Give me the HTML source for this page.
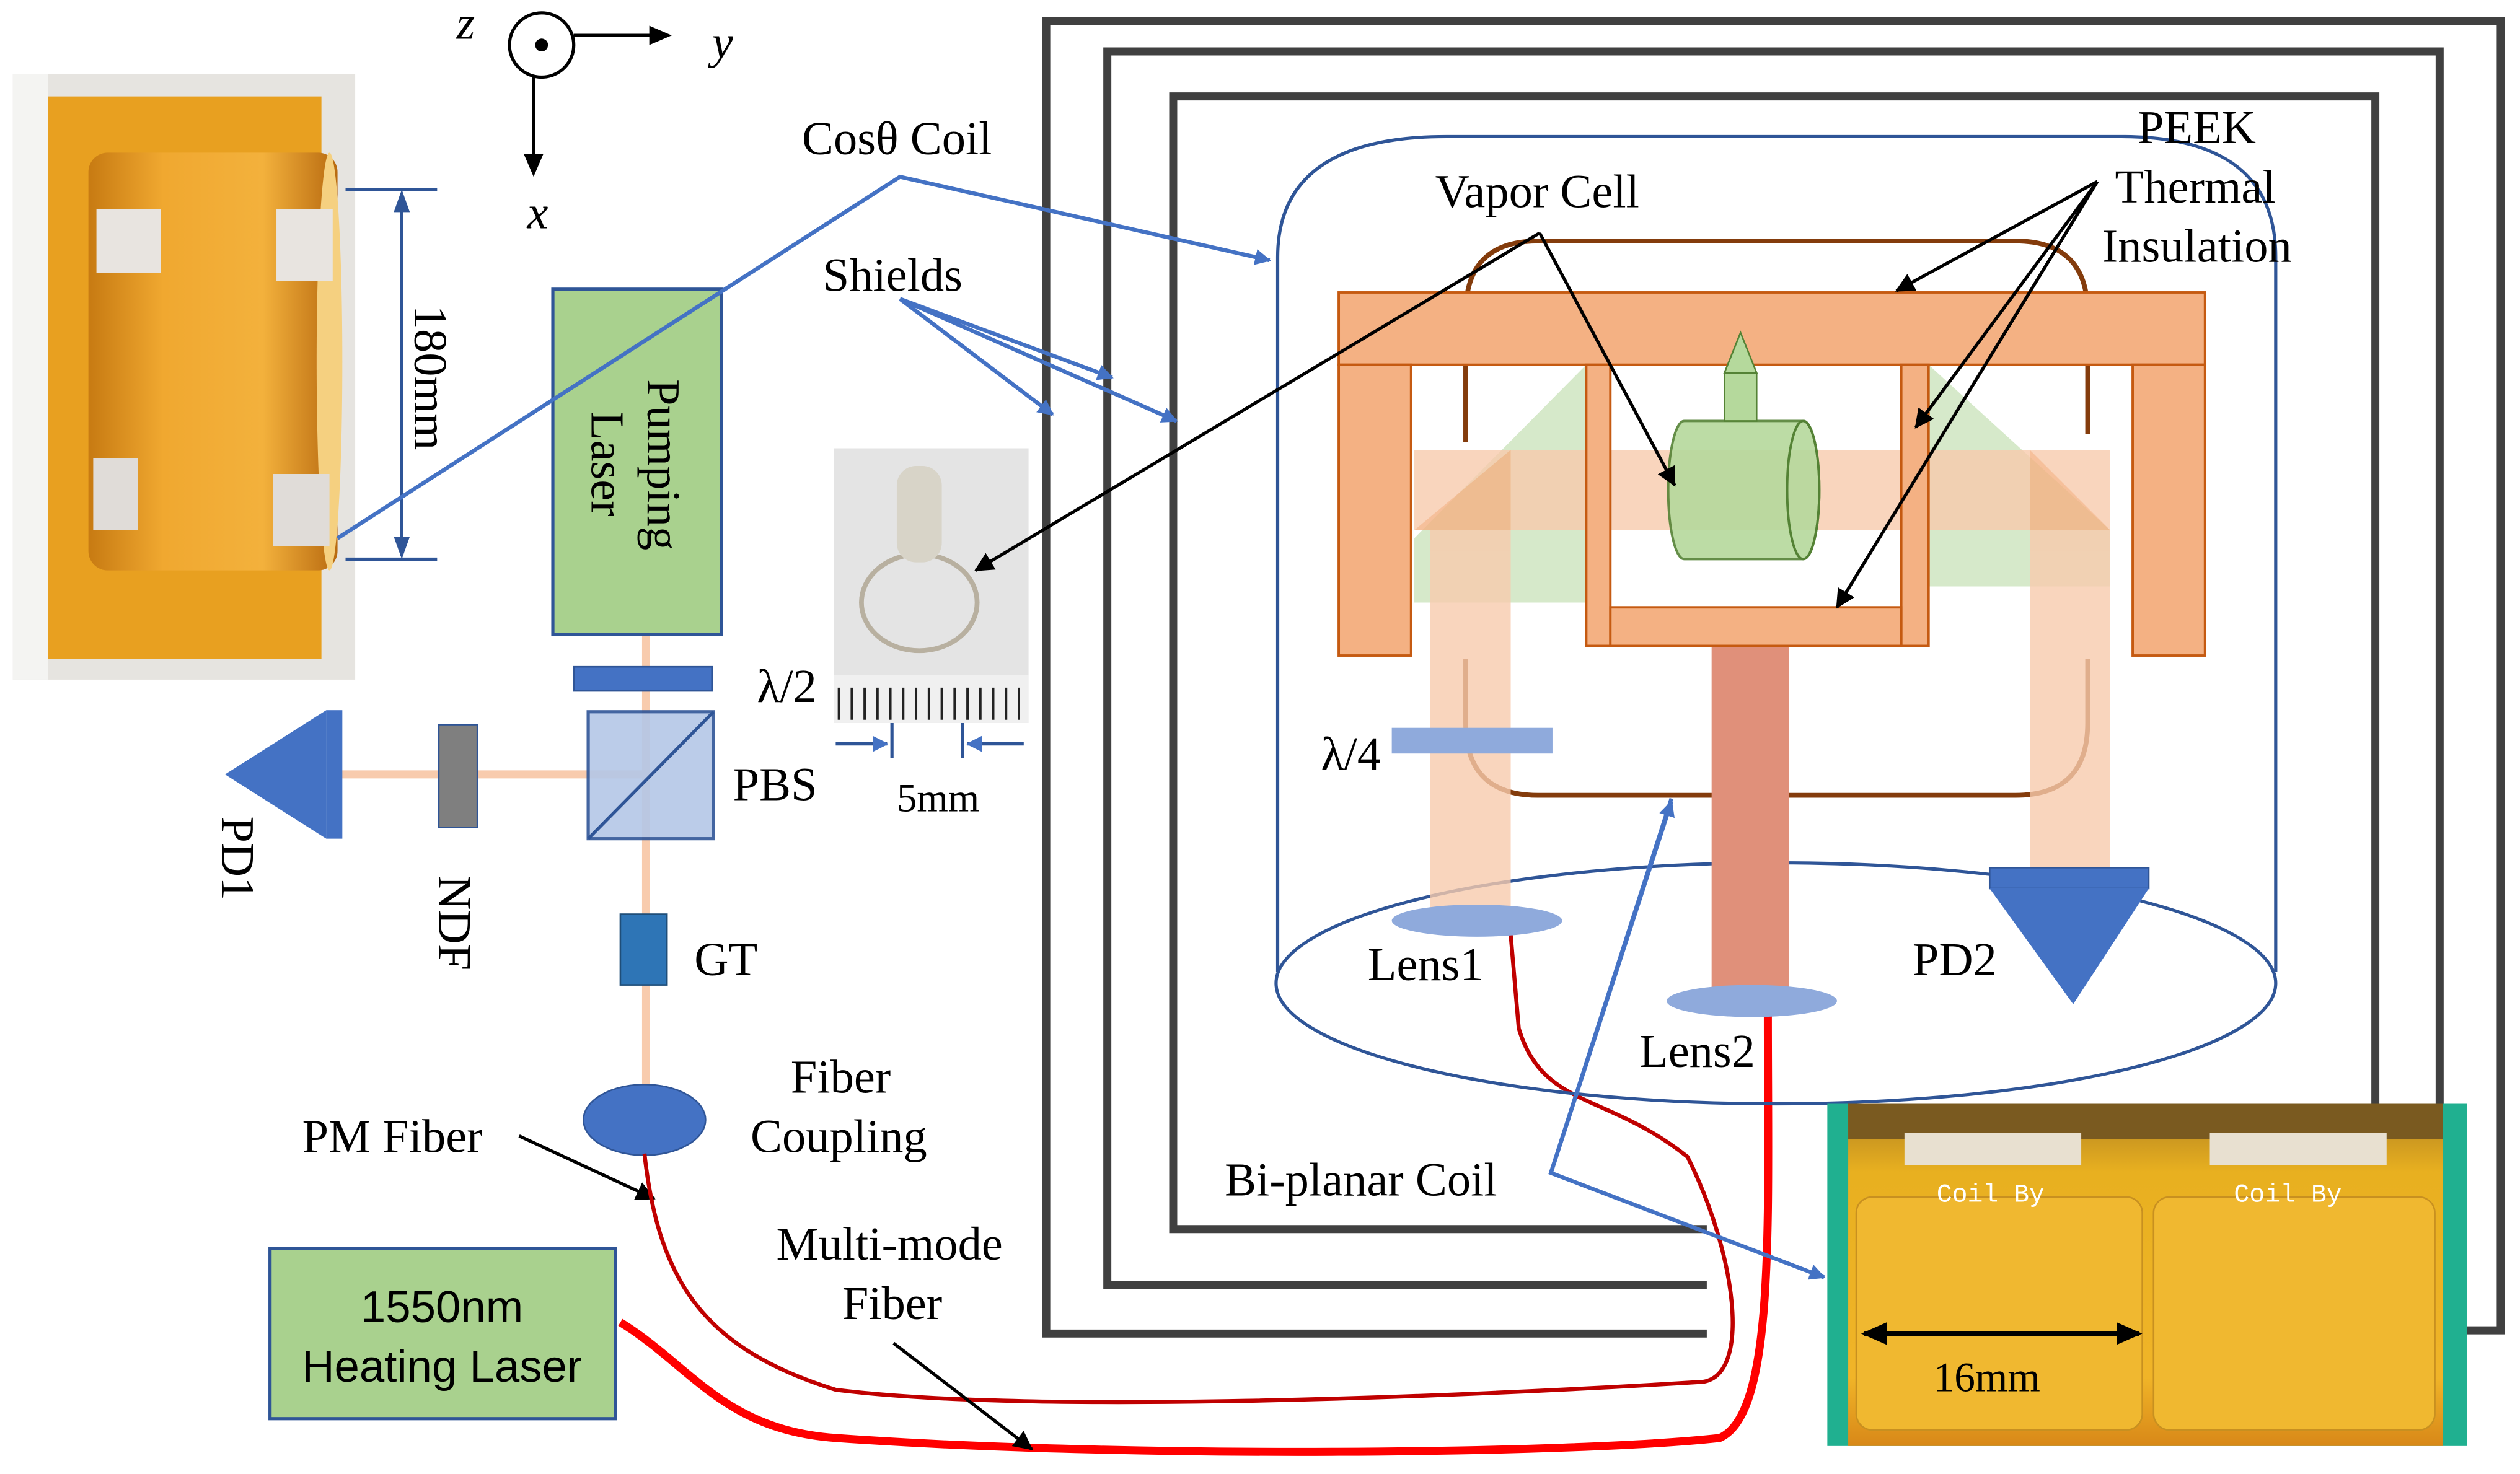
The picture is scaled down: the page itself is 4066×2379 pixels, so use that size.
<!DOCTYPE html>
<html><head><meta charset="utf-8"><style>html,body{margin:0;padding:0;background:#fff}svg{display:block}</style></head><body>
<svg width="4066" height="2379" viewBox="0 0 1568 917.4" xmlns="http://www.w3.org/2000/svg" font-family="Liberation Serif, serif" font-size="29.5">
<defs>
<marker id="ab" markerWidth="10" markerHeight="10" refX="9" refY="5" orient="auto" markerUnits="userSpaceOnUse"><path d="M0,0 L10,5 L0,10 z" fill="#4472c4"/></marker>
<marker id="ak" markerWidth="12" markerHeight="12" refX="11" refY="6" orient="auto" markerUnits="userSpaceOnUse"><path d="M0,0 L12,6 L0,12 z" fill="#000"/></marker>
<linearGradient id="cyl" x1="0" x2="1"><stop offset="0" stop-color="#c77a12"/><stop offset="0.3" stop-color="#f0a830"/><stop offset="0.7" stop-color="#f3b13c"/><stop offset="1" stop-color="#b86a10"/></linearGradient>
<linearGradient id="pcb" x1="0" y1="0" x2="0" y2="1"><stop offset="0" stop-color="#b08020"/><stop offset="0.2" stop-color="#e8b020"/><stop offset="0.8" stop-color="#f0b428"/><stop offset="1" stop-color="#d88818"/></linearGradient>
</defs>
<g fill="none" stroke="#404040" stroke-width="5">
<path d="M1062,830 L651,830 L651,13 L1556,13 L1556,828 L1535,828"/>
<path d="M1062,800 L689,800 L689,32 L1518,32 L1518,800"/>
<path d="M1062,765 L730,765 L730,60 L1478,60 L1478,765"/>
</g>
<rect x="8" y="46" width="213" height="377" fill="#e6e4e0"/>
<rect x="8" y="46" width="22" height="377" fill="#f4f4f2"/>
<rect x="30" y="60" width="170" height="350" fill="#e8a020"/>
<rect x="55" y="95" width="155" height="260" rx="12" fill="url(#cyl)"/>
<ellipse cx="205" cy="225" rx="8" ry="130" fill="#f5d080"/>
<rect x="60" y="130" width="40" height="40" fill="#e8e4e0"/><rect x="172" y="130" width="35" height="45" fill="#e8e4e0"/>
<rect x="58" y="285" width="28" height="45" fill="#e0dcd8"/><rect x="170" y="295" width="35" height="45" fill="#e0dcd8"/>
<circle cx="337" cy="28" r="20" fill="none" stroke="#000" stroke-width="2"/><circle cx="337" cy="28" r="4" fill="#000"/>
<line x1="357" y1="22" x2="405" y2="22" stroke="#000" stroke-width="2"/><path d="M418,22 L404,16 L404,28z"/>
<line x1="332" y1="48" x2="332" y2="98" stroke="#000" stroke-width="2"/><path d="M332,110 L326,96 L338,96z"/>
<text x="284" y="24" font-style="italic">z</text><text x="443" y="36" font-style="italic">y</text><text x="328" y="142" font-style="italic">x</text>
<g stroke="#2f5597" stroke-width="2"><line x1="215" y1="118" x2="272" y2="118"/><line x1="215" y1="348" x2="272" y2="348"/><line x1="250" y1="120" x2="250" y2="346"/></g>
<path d="M250,118 L245,132 L255,132z M250,348 L245,334 L255,334z" fill="#2f5597"/>
<text transform="translate(258,190) rotate(90)">180mm</text>
<line x1="402" y1="395" x2="402" y2="700" stroke="#f8cbad" stroke-width="5"/>
<line x1="210" y1="482" x2="402" y2="482" stroke="#f8cbad" stroke-width="5"/>
<rect x="344" y="180" width="105" height="215" fill="#a9d18e" stroke="#2f5597" stroke-width="2"/>
<text transform="translate(403,236) rotate(90)">Pumping</text><text transform="translate(368,256) rotate(90)">Laser</text>
<rect x="357" y="415" width="86" height="15" fill="#4472c4" stroke="#2f5597"/>
<text x="471" y="437">λ/2</text>
<rect x="366" y="443" width="78" height="79" fill="#b4c7e7" stroke="#2f5597" stroke-width="2" opacity="0.9"/>
<line x1="366" y1="522" x2="444" y2="443" stroke="#2f5597" stroke-width="2"/>
<text x="456" y="498">PBS</text>
<rect x="273" y="451" width="24" height="64" fill="#7f7f7f" stroke="#2f5597"/>
<text transform="translate(273,545) rotate(90)">NDF</text>
<path d="M140,482 L203,442 L203,522z" fill="#4472c4"/><rect x="203" y="442" width="10" height="80" fill="#4472c4"/>
<text transform="translate(138,508) rotate(90)">PD1</text>
<rect x="386" y="569" width="29" height="44" fill="#2e75b6" stroke="#1f4e79"/>
<text x="432" y="607">GT</text>
<ellipse cx="401" cy="697" rx="38" ry="22" fill="#4472c4" stroke="#2f5597"/>
<text x="492" y="680">Fiber</text><text x="467" y="717">Coupling</text>
<text x="188" y="717">PM Fiber</text>
<line x1="323" y1="707" x2="407" y2="746" stroke="#000" stroke-width="2" marker-end="url(#ak)"/>
<rect x="168" y="777" width="215" height="106" fill="#a9d18e" stroke="#2f5597" stroke-width="2"/>
<text x="275" y="823" font-family="Liberation Sans, sans-serif" text-anchor="middle" font-size="28">1550nm</text>
<text x="275" y="860" font-family="Liberation Sans, sans-serif" text-anchor="middle" font-size="28">Heating Laser</text>
<text x="483" y="784">Multi-mode</text><text x="524" y="821">Fiber</text>
<path d="M401,718 C410,800 440,840 520,865 C640,880 900,870 1060,860 C1090,855 1080,780 1050,720 C1000,680 960,690 945,640 L940,582" fill="none" stroke="#c00000" stroke-width="2.5"/>
<path d="M386,823 C430,850 450,890 520,895 C700,908 980,905 1070,895 C1105,880 1100,760 1100,632" fill="none" stroke="#ff0000" stroke-width="5"/>
<line x1="556" y1="836" x2="642" y2="902" stroke="#000" stroke-width="2" marker-end="url(#ak)"/>
<rect x="519" y="279" width="121" height="171" fill="#e4e4e4"/>
<rect x="519" y="420" width="121" height="30" fill="#f0f0f0"/>
<g stroke="#222" stroke-width="1.5"><path d="M522,428v20M530,428v20M538,428v20M546,428v20M554,428v20M562,428v20M570,428v20M578,428v20M586,428v20M594,428v20M602,428v20M610,428v20M618,428v20M626,428v20M634,428v20"/></g>
<ellipse cx="572" cy="375" rx="36" ry="30" fill="none" stroke="#b8b0a0" stroke-width="3"/>
<rect x="558" y="290" width="28" height="60" rx="12" fill="#d8d4c8"/>
<g stroke="#2f5597" stroke-width="2"><line x1="520" y1="463" x2="552" y2="463" marker-end="url(#ab)"/><line x1="637" y1="463" x2="602" y2="463" marker-end="url(#ab)"/><line x1="555" y1="450" x2="555" y2="472"/><line x1="599" y1="450" x2="599" y2="472"/></g>
<text x="558" y="505" font-size="25">5mm</text>
<text x="512" y="181">Shields</text>
<g stroke="#4472c4" stroke-width="2.5" fill="none">
<line x1="560" y1="186" x2="655" y2="258" marker-end="url(#ab)"/>
<line x1="560" y1="186" x2="692" y2="235" marker-end="url(#ab)"/>
<line x1="560" y1="186" x2="732" y2="262" marker-end="url(#ab)"/>
<path d="M210,335 L560,110 L790,162" marker-end="url(#ab)"/>
</g>
<text x="499" y="96">Cosθ Coil</text>
<path d="M795,605 L795,160 Q795,85 900,85 L1320,85 Q1416,85 1416,160 L1416,605" fill="none" stroke="#2f5597" stroke-width="2"/>
<ellipse cx="1105" cy="612" rx="311" ry="75" fill="none" stroke="#2f5597" stroke-width="2"/>
<path d="M912,275 L912,195 Q912,150 957,150 L1254,150 Q1299,150 1299,195 L1299,270 M912,410 L912,450 Q912,495 957,495 L1254,495 Q1299,495 1299,450 L1299,410" fill="none" stroke="#843c0c" stroke-width="3"/>
<path d="M987,227 L880,335 L880,375 L987,375z" fill="#c5e0b4" opacity="0.7"/>
<path d="M1200,227 L1313,330 L1313,365 L1200,365z" fill="#c5e0b4" opacity="0.7"/>
<g opacity="0.8">
<rect x="880" y="280" width="433" height="50" fill="#f8cbad"/>
<rect x="890" y="330" width="50" height="235" fill="#f8cbad"/>
<rect x="1263" y="330" width="50" height="215" fill="#f8cbad"/>
<path d="M880,330 L940,280 L940,330z M1313,330 L1263,280 L1263,330z" fill="#f4b183"/>
</g>
<rect x="1065" y="402" width="48" height="213" fill="#e0907a"/>
<g fill="#f4b183" stroke="#c55a11" stroke-width="1.5">
<rect x="833" y="182" width="539" height="45"/>
<rect x="833" y="227" width="45" height="181"/>
<rect x="1327" y="227" width="45" height="181"/>
<rect x="987" y="227" width="15" height="175"/>
<rect x="1183" y="227" width="17" height="175"/>
<rect x="1002" y="378" width="181" height="24"/>
</g>
<path d="M1048,262 L1122,262 A10,43 0 0 1 1122,348 L1048,348 A10,43 0 0 1 1048,262z" fill="#b5d99c" stroke="#548235" stroke-width="1.5" opacity="0.9"/>
<ellipse cx="1122" cy="305" rx="10" ry="43" fill="none" stroke="#548235" stroke-width="1.5"/>
<rect x="1073" y="232" width="20" height="30" fill="#b5d99c" stroke="#548235"/>
<path d="M1073,232 L1083,207 L1093,232z" fill="#b5d99c" stroke="#548235"/>
<rect x="866" y="453" width="100" height="16" fill="#8faadc"/>
<text x="822" y="479">λ/4</text>
<ellipse cx="919" cy="573" rx="53" ry="10" fill="#8faadc"/>
<ellipse cx="1090" cy="623" rx="53" ry="10" fill="#8faadc"/>
<text x="851" y="610">Lens1</text><text x="1020" y="664">Lens2</text>
<rect x="1238" y="540" width="99" height="13" fill="#4472c4" stroke="#2f5597"/>
<path d="M1238,553 L1337,553 L1290,625z" fill="#4472c4"/>
<text x="1190" y="607">PD2</text>
<text x="893" y="129">Vapor Cell</text>
<text x="1330" y="89">PEEK</text><text x="1316" y="126">Thermal</text><text x="1308" y="163">Insulation</text>
<g stroke="#000" stroke-width="2">
<line x1="958" y1="145" x2="607" y2="355" marker-end="url(#ak)"/>
<line x1="958" y1="145" x2="1042" y2="302" marker-end="url(#ak)"/>
<line x1="1305" y1="113" x2="1180" y2="181" marker-end="url(#ak)"/>
<line x1="1305" y1="113" x2="1192" y2="266" marker-end="url(#ak)"/>
<line x1="1305" y1="113" x2="1143" y2="378" marker-end="url(#ak)"/>
</g>
<text x="762" y="744">Bi-planar Coil</text>
<g stroke="#4472c4" stroke-width="2.5" fill="none">
<path d="M1040,497 L965,730 L1135,795" marker-end="url(#ab)"/>
<line x1="965" y1="730" x2="1040" y2="499" marker-end="url(#ab)"/>
</g>
<rect x="1137" y="687" width="398" height="213" fill="#20b090"/>
<rect x="1150" y="687" width="370" height="213" fill="url(#pcb)"/>
<rect x="1155" y="745" width="178" height="145" rx="10" fill="#f0b830" stroke="#c89020"/>
<rect x="1340" y="745" width="175" height="145" rx="10" fill="#f0b830" stroke="#c89020"/>
<rect x="1150" y="687" width="370" height="22" fill="#7a5a20"/>
<g fill="#e8e0d0"><rect x="1185" y="705" width="110" height="20"/><rect x="1375" y="705" width="110" height="20"/></g>
<text x="1205" y="748" font-family="Liberation Mono, monospace" font-size="16" fill="#fff">Coil By</text>
<text x="1390" y="748" font-family="Liberation Mono, monospace" font-size="16" fill="#fff">Coil By</text>
<line x1="1160" y1="830" x2="1331" y2="830" stroke="#000" stroke-width="3"/>
<path d="M1158,830 L1174,823 L1174,837z M1333,830 L1317,823 L1317,837z"/>
<text x="1203" y="866" font-size="26">16mm</text>
</svg>
</body></html>
